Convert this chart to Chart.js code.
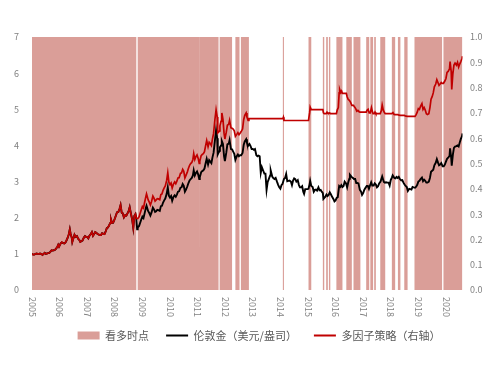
<!DOCTYPE html>
<html><head><meta charset="utf-8">
<script src="https://cdn.jsdelivr.net/npm/chart.js@4.4.0/dist/chart.umd.min.js"></script>
<style>html,body{margin:0;padding:0;background:#fff;}canvas{display:block;}</style>
</head><body>
<canvas id="c" width="500" height="370"></canvas>
<script>
const yearTicks = [2005,2006,2007,2008,2009,2010,2011,2012,2013,2014,2015,2016,2017,2018,2019,2020];
const leftTicks = [0,1,2,3,4,5,6,7];
const rightTicks = [0,0.1,0.2,0.3,0.4,0.5,0.6,0.7,0.8,0.9,1.0];
const seriesNames = ['看多时点','伦敦金（美元/盎司）','多因子策略（右轴）'];

// bullish ("看多") periods, decimal years
const bullStart = [2005.00,2008.83,2011.072,2011.80,2012.37,2012.57,2014.09,2015.02,2015.54,2015.66,2015.76,2016.03,2016.39,2016.65,2017.11,2017.26,2017.40,2017.62,2018.04,2018.26,2018.49,2018.86,2019.91];
const bullEnd   = [2008.78,2011.066,2011.76,2012.25,2012.52,2012.86,2014.13,2015.12,2015.59,2015.72,2015.81,2016.25,2016.59,2016.90,2017.22,2017.36,2017.46,2017.80,2018.16,2018.35,2018.61,2019.86,2020.60];

// London gold (normalised), left axis
const goldSeries = [
[2005.00,1.00],[2005.04,0.98],[2005.08,0.98],[2005.13,1.00],[2005.17,1.01],[2005.21,1.00],[2005.25,1.00],[2005.29,1.01],[2005.33,1.00],[2005.38,0.97],[2005.42,1.00],[2005.46,1.03],[2005.50,1.00],[2005.54,1.01],[2005.58,1.02],[2005.63,1.03],[2005.67,1.06],[2005.71,1.10],[2005.75,1.09],[2005.79,1.10],[2005.83,1.11],[2005.88,1.15],[2005.92,1.20],[2005.95,1.25],[2005.98,1.20],
[2006.04,1.29],[2006.08,1.32],[2006.13,1.30],[2006.17,1.29],[2006.21,1.31],[2006.25,1.37],[2006.29,1.44],[2006.33,1.53],[2006.37,1.68],[2006.40,1.55],[2006.44,1.45],[2006.46,1.33],[2006.50,1.43],[2006.54,1.53],[2006.58,1.47],[2006.63,1.49],[2006.67,1.42],[2006.71,1.39],[2006.75,1.33],[2006.79,1.35],[2006.83,1.37],[2006.88,1.45],[2006.92,1.49],[2006.96,1.47],
[2007.00,1.47],[2007.04,1.43],[2007.08,1.50],[2007.13,1.55],[2007.17,1.60],[2007.21,1.50],[2007.25,1.55],[2007.29,1.60],[2007.33,1.58],[2007.38,1.55],[2007.42,1.53],[2007.46,1.52],[2007.50,1.52],[2007.54,1.57],[2007.58,1.56],[2007.63,1.55],[2007.67,1.62],[2007.71,1.71],[2007.75,1.73],[2007.79,1.78],[2007.83,1.85],[2007.86,1.96],[2007.90,1.86],[2007.94,1.86],[2007.98,1.93],
[2008.04,2.06],[2008.08,2.15],[2008.13,2.16],[2008.17,2.24],[2008.21,2.35],[2008.25,2.14],[2008.29,2.12],[2008.33,2.01],[2008.38,2.07],[2008.42,2.06],[2008.46,2.12],[2008.50,2.18],[2008.54,2.29],[2008.58,2.13],[2008.63,1.95],[2008.67,1.72],[2008.71,2.05],[2008.75,2.10],[2008.78,1.98],[2008.81,1.68],[2008.83,1.73],[2008.88,1.77],[2008.92,1.86],[2008.96,1.95],
[2009.00,2.03],[2009.04,1.99],[2009.08,2.12],[2009.13,2.28],[2009.15,2.33],[2009.21,2.18],[2009.25,2.13],[2009.29,2.06],[2009.33,2.14],[2009.38,2.28],[2009.42,2.23],[2009.46,2.16],[2009.50,2.18],[2009.54,2.22],[2009.58,2.21],[2009.63,2.19],[2009.67,2.32],[2009.71,2.33],[2009.75,2.42],[2009.79,2.48],[2009.83,2.53],[2009.88,2.66],[2009.92,2.84],[2009.96,2.61],
[2010.00,2.56],[2010.04,2.60],[2010.08,2.47],[2010.13,2.58],[2010.17,2.62],[2010.21,2.58],[2010.25,2.64],[2010.29,2.72],[2010.33,2.73],[2010.38,2.83],[2010.42,2.84],[2010.46,2.93],[2010.50,2.88],[2010.54,2.72],[2010.58,2.78],[2010.63,2.87],[2010.67,2.96],[2010.71,3.03],[2010.75,3.07],[2010.79,3.10],[2010.83,3.17],[2010.86,3.31],[2010.90,3.17],[2010.94,3.24],[2010.98,3.28],
[2011.02,3.20],[2011.06,3.07],[2011.08,3.12],[2011.13,3.26],[2011.17,3.29],[2011.21,3.31],[2011.25,3.36],[2011.29,3.50],[2011.33,3.63],[2011.38,3.47],[2011.42,3.59],[2011.46,3.55],[2011.50,3.51],[2011.54,3.67],[2011.58,3.80],[2011.63,4.15],[2011.67,4.42],[2011.71,4.20],[2011.73,3.75],[2011.76,3.80],[2011.80,3.85],[2011.81,3.95],[2011.85,4.00],[2011.88,4.12],[2011.92,4.04],[2011.96,3.70],[2011.99,3.57],
[2012.04,3.80],[2012.08,4.03],[2012.13,4.05],[2012.16,4.15],[2012.21,3.90],[2012.25,3.89],[2012.29,3.83],[2012.33,3.77],[2012.37,3.60],[2012.42,3.70],[2012.46,3.75],[2012.50,3.70],[2012.54,3.73],[2012.58,3.73],[2012.63,3.79],[2012.67,4.01],[2012.71,4.11],[2012.76,4.17],[2012.79,4.07],[2012.83,3.99],[2012.88,4.04],[2012.92,3.98],[2012.96,3.90],
[2013.00,3.90],[2013.04,3.88],[2013.08,3.90],[2013.13,3.73],[2013.17,3.70],[2013.21,3.72],[2013.25,3.70],[2013.29,3.24],[2013.33,3.40],[2013.38,3.30],[2013.42,3.22],[2013.46,3.22],[2013.50,2.77],[2013.54,2.99],[2013.58,3.07],[2013.63,3.17],[2013.65,3.31],[2013.71,3.13],[2013.75,3.09],[2013.79,3.07],[2013.83,3.10],[2013.88,2.99],[2013.92,2.91],[2013.96,2.84],
[2014.00,2.80],[2014.04,2.90],[2014.08,2.94],[2014.13,3.07],[2014.17,3.10],[2014.21,3.21],[2014.25,3.01],[2014.29,3.02],[2014.33,3.03],[2014.38,3.00],[2014.42,2.90],[2014.46,3.03],[2014.50,3.09],[2014.54,3.07],[2014.58,3.00],[2014.63,3.04],[2014.67,2.91],[2014.71,2.84],[2014.75,2.84],[2014.79,2.87],[2014.83,2.72],[2014.86,2.66],[2014.90,2.79],[2014.94,2.79],[2014.98,2.79],
[2015.02,2.80],[2015.06,2.93],[2015.08,3.02],[2015.12,2.88],[2015.17,2.85],[2015.21,2.72],[2015.25,2.77],[2015.29,2.78],[2015.33,2.75],[2015.38,2.84],[2015.42,2.76],[2015.46,2.77],[2015.50,2.72],[2015.54,2.68],[2015.56,2.52],[2015.63,2.58],[2015.67,2.64],[2015.71,2.60],[2015.75,2.63],[2015.79,2.70],[2015.83,2.65],[2015.88,2.57],[2015.92,2.52],[2015.96,2.45],
[2016.00,2.48],[2016.04,2.55],[2016.08,2.57],[2016.13,2.88],[2016.17,2.85],[2016.21,2.90],[2016.25,2.85],[2016.29,2.88],[2016.33,3.00],[2016.38,2.95],[2016.42,2.84],[2016.46,2.98],[2016.50,3.08],[2016.52,3.19],[2016.58,3.13],[2016.63,3.10],[2016.67,3.07],[2016.71,3.07],[2016.75,2.96],[2016.79,2.96],[2016.83,2.95],[2016.88,2.77],[2016.92,2.73],[2016.96,2.63],
[2017.00,2.68],[2017.04,2.77],[2017.08,2.82],[2017.13,2.88],[2017.17,2.88],[2017.21,2.80],[2017.25,2.90],[2017.29,2.98],[2017.33,2.89],[2017.38,2.89],[2017.42,2.95],[2017.46,2.92],[2017.50,2.84],[2017.54,2.87],[2017.58,2.95],[2017.63,3.00],[2017.69,3.14],[2017.75,2.99],[2017.79,2.97],[2017.83,2.98],[2017.88,2.97],[2017.92,2.97],[2017.96,2.89],
[2018.00,3.04],[2018.04,3.11],[2018.07,3.17],[2018.13,3.10],[2018.17,3.09],[2018.21,3.13],[2018.25,3.10],[2018.29,3.13],[2018.33,3.07],[2018.38,3.03],[2018.42,3.04],[2018.46,2.97],[2018.50,2.92],[2018.54,2.88],[2018.58,2.85],[2018.62,2.74],[2018.67,2.80],[2018.71,2.79],[2018.75,2.78],[2018.79,2.85],[2018.83,2.84],[2018.88,2.83],[2018.92,2.86],[2018.96,2.91],
[2019.00,3.00],[2019.04,3.02],[2019.08,3.07],[2019.13,3.11],[2019.17,3.01],[2019.21,3.05],[2019.25,3.02],[2019.29,2.97],[2019.33,2.97],[2019.38,3.00],[2019.42,3.10],[2019.46,3.27],[2019.50,3.30],[2019.54,3.33],[2019.58,3.45],[2019.63,3.52],[2019.67,3.62],[2019.71,3.53],[2019.75,3.45],[2019.79,3.47],[2019.83,3.51],[2019.88,3.42],[2019.92,3.42],[2019.96,3.47],
[2020.00,3.55],[2020.04,3.63],[2020.08,3.66],[2020.13,3.71],[2020.15,3.92],[2020.19,3.66],[2020.21,3.44],[2020.25,3.74],[2020.29,3.93],[2020.33,3.97],[2020.38,3.98],[2020.42,4.00],[2020.46,3.97],[2020.50,4.08],[2020.54,4.18],[2020.58,4.25],[2020.60,4.33]
];

// multi-factor strategy, right axis
const strategySeries = [
[2005.00,.143],[2005.04,.140],[2005.08,.140],[2005.13,.143],[2005.17,.144],[2005.21,.143],[2005.25,.143],[2005.29,.144],[2005.33,.143],[2005.38,.139],[2005.42,.143],[2005.46,.147],[2005.50,.143],[2005.54,.144],[2005.58,.146],[2005.63,.147],[2005.67,.151],[2005.71,.157],[2005.75,.156],[2005.79,.157],[2005.83,.159],[2005.88,.164],[2005.92,.171],[2005.95,.179],[2005.98,.171],
[2006.04,.184],[2006.08,.189],[2006.13,.186],[2006.17,.184],[2006.21,.187],[2006.25,.196],[2006.29,.206],[2006.33,.219],[2006.37,.240],[2006.40,.221],[2006.44,.207],[2006.46,.190],[2006.50,.204],[2006.54,.219],[2006.58,.210],[2006.63,.213],[2006.67,.203],[2006.71,.199],[2006.75,.190],[2006.79,.193],[2006.83,.196],[2006.88,.207],[2006.92,.213],[2006.96,.210],
[2007.00,.210],[2007.04,.204],[2007.08,.214],[2007.13,.221],[2007.17,.229],[2007.21,.214],[2007.25,.221],[2007.29,.229],[2007.33,.226],[2007.38,.221],[2007.42,.219],[2007.46,.217],[2007.50,.217],[2007.54,.224],[2007.58,.223],[2007.63,.221],[2007.67,.231],[2007.71,.244],[2007.75,.247],[2007.79,.254],[2007.83,.264],[2007.86,.280],[2007.90,.266],[2007.94,.266],[2007.98,.276],
[2008.04,.294],[2008.08,.307],[2008.13,.309],[2008.17,.320],[2008.21,.336],[2008.25,.306],[2008.29,.303],[2008.33,.287],[2008.38,.296],[2008.42,.294],[2008.46,.303],[2008.50,.311],[2008.54,.327],[2008.58,.304],[2008.63,.279],[2008.67,.246],[2008.71,.293],[2008.75,.300],[2008.78,.283],[2008.83,.282],[2008.88,.289],[2008.92,.303],[2008.96,.317],
[2009.00,.330],[2009.04,.324],[2009.08,.346],[2009.13,.371],[2009.15,.380],[2009.21,.356],[2009.25,.347],[2009.29,.336],[2009.33,.349],[2009.38,.371],[2009.42,.363],[2009.46,.351],[2009.50,.356],[2009.54,.361],[2009.58,.360],[2009.63,.357],[2009.67,.377],[2009.71,.380],[2009.75,.394],[2009.79,.404],[2009.83,.411],[2009.88,.433],[2009.92,.463],[2009.96,.426],
[2010.00,.417],[2010.04,.423],[2010.08,.403],[2010.13,.420],[2010.17,.427],[2010.21,.420],[2010.25,.430],[2010.29,.443],[2010.33,.444],[2010.38,.461],[2010.42,.463],[2010.46,.477],[2010.50,.469],[2010.54,.443],[2010.58,.453],[2010.63,.467],[2010.67,.481],[2010.71,.493],[2010.75,.500],[2010.79,.504],[2010.83,.516],[2010.86,.539],[2010.90,.516],[2010.94,.527],[2010.98,.534],
[2011.02,.521],[2011.06,.500],[2011.08,.509],[2011.13,.531],[2011.17,.536],[2011.21,.539],[2011.25,.547],[2011.29,.570],[2011.33,.591],[2011.38,.566],[2011.42,.584],[2011.46,.579],[2011.50,.571],[2011.54,.597],[2011.58,.619],[2011.63,.676],[2011.67,.712],[2011.71,.684],[2011.73,.621],[2011.76,.624],[2011.80,.629],[2011.81,.649],[2011.85,.667],[2011.88,.700],[2011.92,.674],[2011.96,.619],[2011.99,.597],
[2012.04,.624],[2012.08,.651],[2012.13,.656],[2012.16,.671],[2012.21,.641],[2012.25,.639],[2012.29,.636],[2012.33,.629],[2012.37,.607],[2012.42,.615],[2012.46,.622],[2012.50,.614],[2012.54,.620],[2012.58,.626],[2012.63,.636],[2012.67,.673],[2012.71,.690],[2012.76,.700],[2012.79,.683],[2012.83,.670],[2012.86,.677],
[2014.09,.677],[2014.11,.683],[2014.13,.670],[2015.02,.670],[2015.06,.701],[2015.08,.723],[2015.12,.713],[2015.54,.713],[2015.56,.700],[2015.59,.697],[2015.66,.697],[2015.69,.703],[2015.72,.699],[2015.76,.699],[2015.79,.700],[2015.81,.697],
[2016.03,.697],[2016.06,.711],[2016.10,.721],[2016.13,.779],[2016.15,.793],[2016.19,.780],[2016.22,.786],[2016.25,.777],[2016.39,.777],[2016.42,.764],[2016.46,.753],[2016.50,.750],[2016.54,.743],[2016.59,.730],[2016.65,.730],[2016.69,.723],[2016.73,.717],[2016.77,.707],[2016.81,.710],[2016.86,.704],[2016.90,.703],
[2017.11,.703],[2017.14,.710],[2017.18,.714],[2017.22,.700],[2017.26,.700],[2017.30,.721],[2017.33,.707],[2017.36,.697],[2017.40,.697],[2017.43,.703],[2017.46,.697],[2017.62,.697],[2017.66,.709],[2017.69,.731],[2017.73,.711],[2017.77,.701],[2017.80,.697],
[2018.04,.697],[2018.08,.701],[2018.12,.694],[2018.16,.693],[2018.26,.693],[2018.30,.691],[2018.35,.690],[2018.49,.690],[2018.55,.687],[2018.61,.686],[2018.86,.686],[2018.88,.686],[2018.92,.693],[2018.96,.703],
[2019.00,.717],[2019.04,.714],[2019.08,.726],[2019.13,.737],[2019.17,.714],[2019.21,.721],[2019.25,.711],[2019.29,.697],[2019.33,.694],[2019.38,.697],[2019.42,.721],[2019.46,.754],[2019.50,.764],[2019.54,.779],[2019.58,.803],[2019.63,.814],[2019.67,.831],[2019.71,.820],[2019.75,.809],[2019.79,.814],[2019.83,.820],[2019.86,.817],[2019.91,.817],[2019.96,.826],
[2020.00,.836],[2020.04,.860],[2020.08,.864],[2020.13,.874],[2020.15,.903],[2020.19,.864],[2020.21,.793],[2020.25,.854],[2020.29,.889],[2020.33,.897],[2020.38,.889],[2020.42,.900],[2020.46,.881],[2020.50,.893],[2020.54,.903],[2020.58,.914],[2020.60,.924]
];

const FONT = '"Noto Sans CJK SC", "Noto Sans", sans-serif';
const TICK_COLOR = '#808080';
const BAND_COLOR = 'rgb(218,158,152)';

const bandPoints = [];
bullStart.forEach((s, i) => {
  const e = bullEnd[i];
  bandPoints.push({x:s,y:0},{x:s,y:1},{x:e,y:1},{x:e,y:0});
});

const xLabelPlugin = {
  id: 'xLabels',
  afterDraw(chart) {
    const s = chart.scales.x, ctx = chart.ctx;
    ctx.save();
    ctx.fillStyle = TICK_COLOR;
    ctx.font = '9px ' + FONT;
    ctx.textAlign = 'left';
    ctx.textBaseline = 'middle';
    yearTicks.forEach(yr => {
      const px = s.getPixelForValue(yr);
      ctx.save();
      ctx.translate(px, s.top + 7);
      ctx.rotate(Math.PI / 2);
      ctx.fillText(String(yr), 0, 0);
      ctx.restore();
    });
    ctx.restore();
  }
};
const legendShift = {
  id: 'legendShift',
  afterLayout(chart) {
    if (chart.legend) { chart.legend.left += 9; chart.legend.right += 9; }
  }
};

new Chart(document.getElementById('c'), {
  type: 'line',
  data: {
    datasets: [
      { label: seriesNames[0], data: bandPoints, yAxisID: 'y1', fill: 'origin',
        backgroundColor: BAND_COLOR, borderColor: 'rgba(0,0,0,0)', borderWidth: 0,
        pointRadius: 0, pointStyle: 'rect', pointBorderWidth: 0, order: 3 },
      { label: seriesNames[1], data: goldSeries.map(([x,y]) => ({x,y})), yAxisID: 'y',
        borderColor: '#000000', backgroundColor: '#000000', borderWidth: 1.9, fill: false,
        pointRadius: 0, pointStyle: 'line', pointBorderWidth: 2, order: 2 },
      { label: seriesNames[2], data: strategySeries.map(([x,y]) => ({x,y})), yAxisID: 'y1',
        borderColor: '#C00000', backgroundColor: '#C00000', borderWidth: 1.7, fill: false,
        pointRadius: 0, pointStyle: 'line', pointBorderWidth: 2, order: 1 }
    ]
  },
  options: {
    responsive: false, animation: false, devicePixelRatio: 1,
    layout: { padding: { top: 37, bottom: 19, left: 0, right: 0 } },
    plugins: {
      legend: { position: 'bottom',
        labels: { usePointStyle: true, pointStyleWidth: 22, boxHeight: 8, padding: 17,
          color: '#595959', font: { family: FONT, size: 11 },
          sort: (a, b) => a.datasetIndex - b.datasetIndex } },
      tooltip: { enabled: false }
    },
    scales: {
      x: { type: 'linear', min: yearTicks[0], max: bullEnd[bullEnd.length-1],
        ticks: { display: false }, grid: { display: false, drawTicks: false }, border: { display: false },
        afterFit(s) { s.height = 23; } },
      y: { position: 'left', min: 0, max: 7,
        afterBuildTicks(s) { s.ticks = leftTicks.map(v => ({ value: v })); },
        ticks: { padding: 13, color: TICK_COLOR, font: { family: FONT, size: 9 } },
        grid: { display: false, drawTicks: false }, border: { display: false },
        afterFit(s) { s.width = 32; } },
      y1: { position: 'right', min: 0, max: 1,
        afterBuildTicks(s) { s.ticks = rightTicks.map(v => ({ value: v })); },
        ticks: { padding: 7.5, color: TICK_COLOR, font: { family: FONT, size: 9 }, callback: v => Number(v).toFixed(1) },
        grid: { display: false, drawTicks: false }, border: { display: false },
        afterFit(s) { s.width = 37.5; } }
    }
  },
  plugins: [xLabelPlugin, legendShift]
});
</script>
</body></html>
